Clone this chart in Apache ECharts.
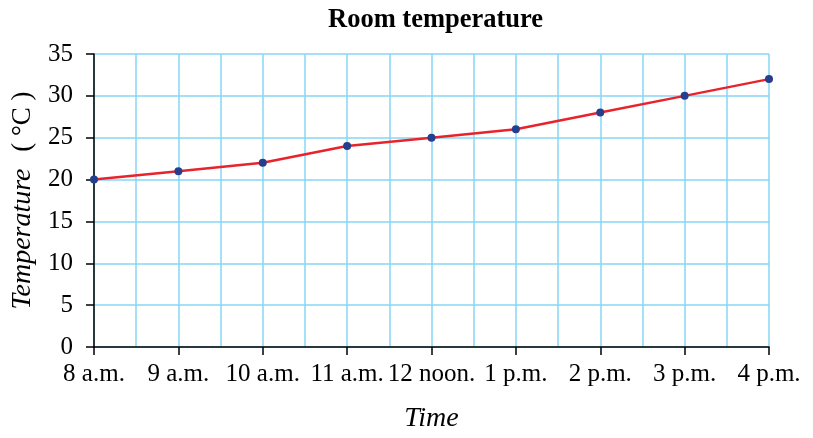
<!DOCTYPE html>
<html>
<head>
<meta charset="utf-8">
<script src="https://cdn.jsdelivr.net/npm/echarts@6/dist/echarts.min.js"></script>
<style>
  html, body { margin: 0; padding: 0; background: #fff; }
  #main { width: 813px; height: 438px; }
</style>
</head>
<body>
<div id="main"></div>
<script>
var times = ['8 a.m.', '9 a.m.', '10 a.m.', '11 a.m.', '12 noon.', '1 p.m.', '2 p.m.', '3 p.m.', '4 p.m.'];
var temps = [20, 21, 22, 24, 25, 26, 28, 30, 32];
var yTicks = [0, 5, 10, 15, 20, 25, 30, 35];

var font = 'Liberation Serif, Times New Roman, serif';
var gridBlue = '#86d6f6';

var myChart = echarts.init(document.getElementById('main'));

var option = {
    animation: false,
    title: {
        text: 'Room temperature',
        left: 323,
        top: 2,
        textStyle: { fontFamily: font, fontSize: 26.5, fontWeight: 'bold', color: '#000' }
    },
    grid: { left: 94, right: 44, top: 54, bottom: 88 },
    xAxis: [{
        type: 'category',
        data: times,
        boundaryGap: false,
        axisLine: { lineStyle: { color: '#000', width: 1.5 } },
        axisTick: { show: true, length: 8, alignWithLabel: true, lineStyle: { color: '#000', width: 1.5 } },
        axisLabel: { fontFamily: font, fontSize: 25, color: '#000', margin: 15, interval: 0 },
        splitLine: { show: false },
        name: 'Time',
        nameLocation: 'middle',
        nameGap: 58,
        nameTextStyle: { fontFamily: font, fontSize: 28, fontStyle: 'italic', color: '#000' },
        z: 5
    }, {
        type: 'value',
        min: 0,
        max: times.length - 1,
        interval: 0.5,
        position: 'bottom',
        axisLine: { show: false },
        axisTick: { show: false },
        axisLabel: { show: false },
        splitLine: { show: true, lineStyle: { color: gridBlue, width: 1.5 } }
    }],
    yAxis: {
        type: 'value',
        min: yTicks[0],
        max: yTicks[yTicks.length - 1],
        interval: 5,
        axisLine: { show: true, lineStyle: { color: '#000', width: 1.5 } },
        axisTick: { show: true, length: 8, lineStyle: { color: '#000', width: 1.5 } },
        axisLabel: { fontFamily: font, fontSize: 25, color: '#000', margin: 21 },
        splitLine: { show: true, lineStyle: { color: gridBlue, width: 1.5 } },
        name: '{i|Temperature}     {n|( °C )}',
        nameLocation: 'middle',
        nameRotate: 90,
        nameGap: 56,
        nameTextStyle: {
            rich: {
                i: { fontFamily: font, fontSize: 28, fontStyle: 'italic', color: '#000' },
                n: { fontFamily: font, fontSize: 27, color: '#000' }
            }
        }
    },
    series: [{
        type: 'line',
        xAxisIndex: 0,
        data: temps,
        symbol: 'circle',
        symbolSize: 8,
        lineStyle: { color: '#e8232b', width: 2.5 },
        itemStyle: { color: '#253f8e' },
        z: 10
    }]
};

myChart.setOption(option);
</script>
</body>
</html>
